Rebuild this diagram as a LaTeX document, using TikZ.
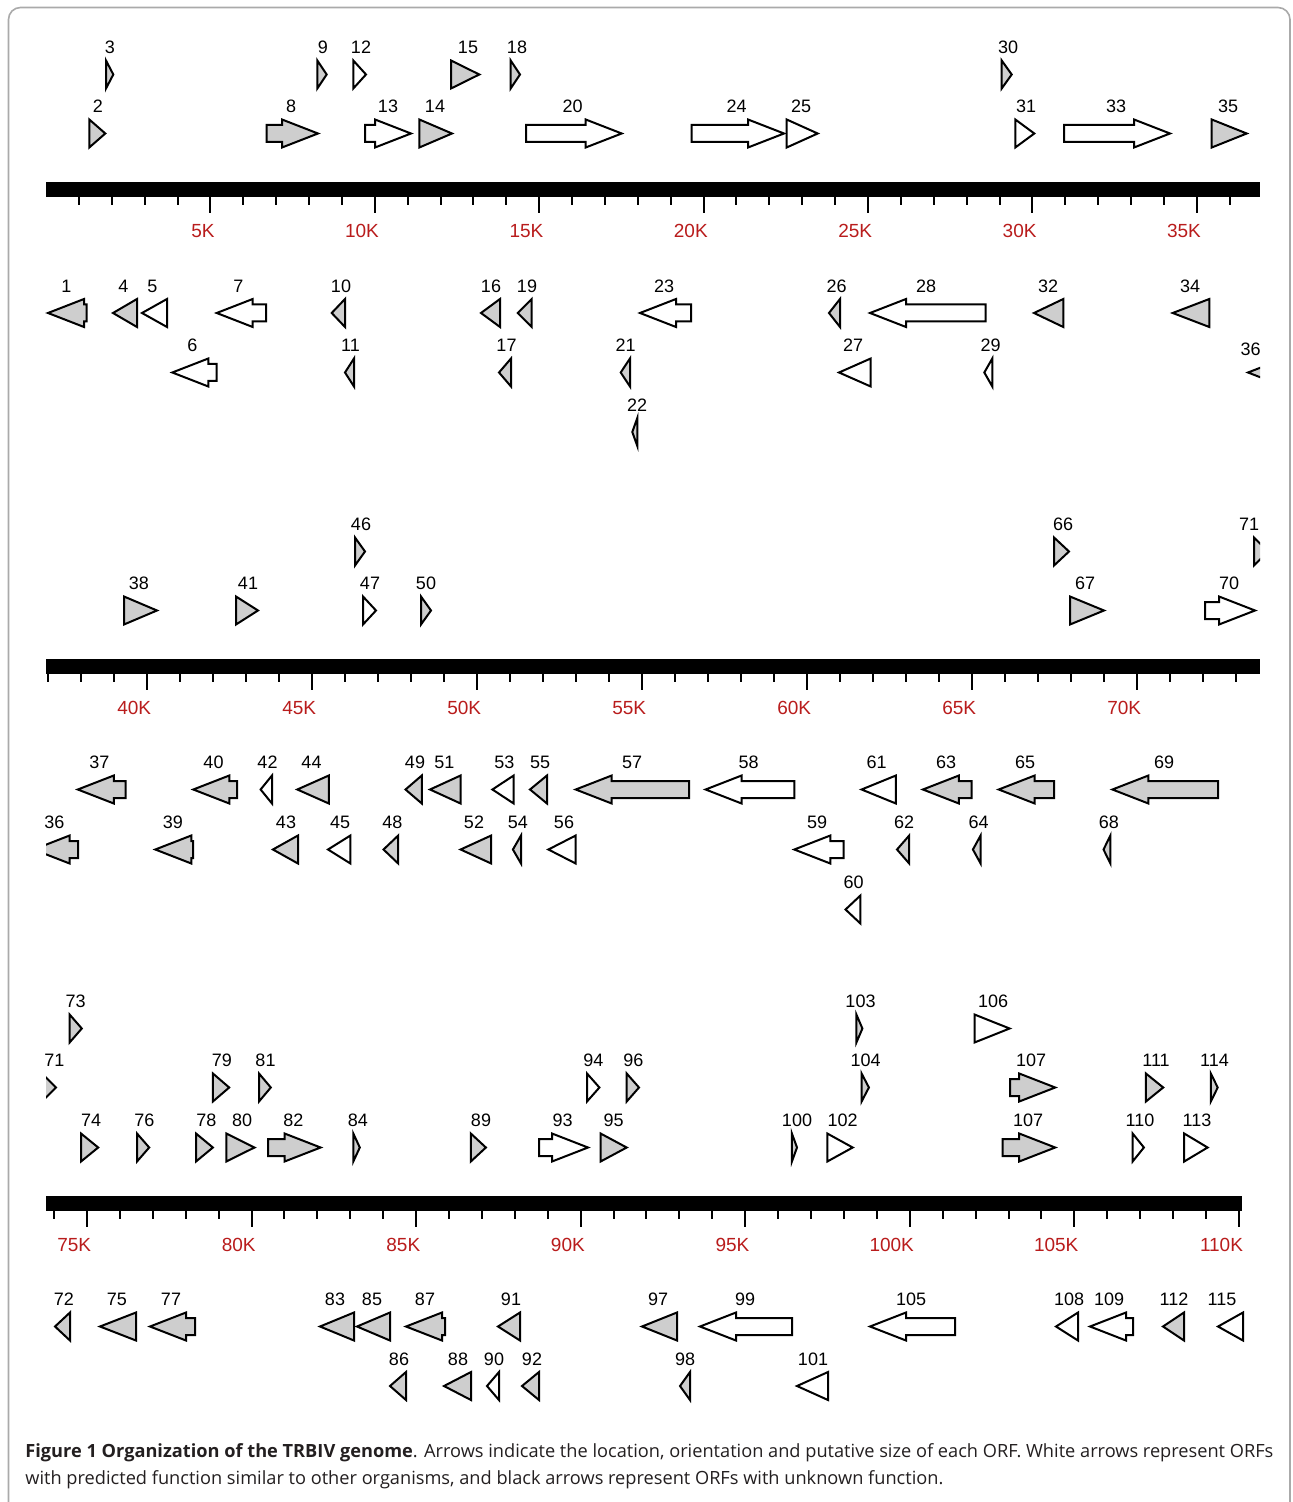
\documentclass[tikz,border=0pt]{standalone}
\usepackage{fontspec}
\setmainfont{Liberation Sans}
\newfontfamily\capfont{Open Sans}
\definecolor{orfgray}{RGB}{206,206,206}
\definecolor{axred}{RGB}{185,28,28}
\definecolor{framegray}{RGB}{170,170,170}
\definecolor{captext}{RGB}{35,31,32}
\tikzset{
  orf/.style={draw=black, line width=1pt, line join=miter},
  orflab/.style={font=\fontsize{9}{10}\selectfont, inner sep=0pt, text=black},
  axlab/.style={font=\fontsize{9.5}{11}\selectfont, inner sep=0pt, text=axred, anchor=east},
  tickline/.style={draw=black, line width=1pt},
  captionline/.style={anchor=base west, inner sep=0pt, text=captext, font=\capfont\fontsize{9.1}{12}\selectfont}
}
\newcommand\fwdTri[4]{\draw[orf,fill=#4] (#1,{#3-14}) -- (#2,#3) -- (#1,{#3+14}) -- cycle;}
\newcommand\revTri[4]{\draw[orf,fill=#4] (#2,{#3-14}) -- (#1,#3) -- (#2,{#3+14}) -- cycle;}
\newcommand\fwdBlk[4]{\draw[orf,fill=#4] (#1,{#3-8.5}) -- ({#2-36},{#3-8.5}) -- ({#2-36},{#3-14}) -- (#2,#3) -- ({#2-36},{#3+14}) -- ({#2-36},{#3+8.5}) -- (#1,{#3+8.5}) -- cycle;}
\newcommand\revBlk[4]{\draw[orf,fill=#4] (#2,{#3-8.5}) -- ({#1+36},{#3-8.5}) -- ({#1+36},{#3-14}) -- (#1,#3) -- ({#1+36},{#3+14}) -- ({#1+36},{#3+8.5}) -- (#2,{#3+8.5}) -- cycle;}
\newcommand\orfLabel[4]{\node[orflab] (#1) at (#2,{#3-27}) {#4};}
\begin{document}
\begin{tikzpicture}[x=0.5pt,y=-0.5pt]
\useasboundingbox (0,0) rectangle (1292,1502);
\fill[white] (0,0) rectangle (1292,1502);
% frame
\draw[framegray, line width=0.8pt, rounded corners=6pt] (8.5,1530) -- (8.5,7.5) -- (1290,7.5) -- (1290,1530);

% ================= TRACK 1 =================
\fill[black] (46,182) rectangle (1260,197);
\foreach \k in {1,...,36} \draw[tickline] ({46+32.88*\k},197) -- ++(0,8);
\foreach \k in {5,10,...,35} {
  \draw[tickline] ({46+32.88*\k},197) -- ++(0,16);
  \node[axlab] (ta\k) at ({46+32.88*\k+4.5},231) {\k K};
}
% forward row A (74.5)
\fwdTri{106}{113.3}{74.5}{orfgray} \orfLabel{n3}{110}{74.5}{3}
\fwdTri{317.3}{326.7}{74.5}{orfgray} \orfLabel{n9}{323}{74.5}{9}
\fwdTri{353.3}{366}{74.5}{white} \orfLabel{n12}{361}{74.5}{12}
\fwdTri{451}{479.3}{74.5}{orfgray} \orfLabel{n15}{468}{74.5}{15}
\fwdTri{510.7}{520}{74.5}{orfgray} \orfLabel{n18}{517}{74.5}{18}
\fwdTri{1001.7}{1011.7}{74.5}{orfgray} \orfLabel{n30}{1008}{74.5}{30}
% forward row B (133.5)
\fwdTri{89.3}{105.3}{133.5}{orfgray} \orfLabel{n2}{98}{133.5}{2}
\fwdBlk{266.7}{318}{133.5}{orfgray} \orfLabel{n8}{291}{133.5}{8}
\fwdBlk{365}{411}{133.5}{white} \orfLabel{n13}{388}{133.5}{13}
\fwdTri{419.3}{452}{133.5}{orfgray} \orfLabel{n14}{435}{133.5}{14}
\fwdBlk{526}{621.7}{133.5}{white} \orfLabel{n20}{572.5}{133.5}{20}
\fwdBlk{691.7}{784}{133.5}{white} \orfLabel{n24}{736.5}{133.5}{24}
\fwdTri{786.7}{817.7}{133.5}{white} \orfLabel{n25}{801}{133.5}{25}
\fwdTri{1015.3}{1034.3}{133.5}{white} \orfLabel{n31}{1026}{133.5}{31}
\fwdBlk{1064}{1170}{133.5}{white} \orfLabel{n33}{1116}{133.5}{33}
\fwdTri{1211.7}{1246.7}{133.5}{orfgray} \orfLabel{n35}{1228}{133.5}{35}
% reverse row C (313)
\revBlk{48}{86.7}{313}{orfgray} \orfLabel{n1}{66.5}{313}{1}
\revTri{113}{137}{313}{orfgray} \orfLabel{n4}{123.5}{313}{4}
\revTri{142}{167}{313}{white} \orfLabel{n5}{152.5}{313}{5}
\revBlk{216.7}{266}{313}{white} \orfLabel{n7}{238.5}{313}{7}
\revTri{331.7}{345}{313}{orfgray} \orfLabel{n10}{341}{313}{10}
\revTri{481}{500}{313}{orfgray} \orfLabel{n16}{491}{313}{16}
\revTri{517.7}{531.7}{313}{orfgray} \orfLabel{n19}{527}{313}{19}
\revBlk{640}{691}{313}{white} \orfLabel{n23}{664}{313}{23}
\revTri{829}{840}{313}{orfgray} \orfLabel{n26}{836.5}{313}{26}
\revBlk{870}{985.7}{313}{white} \orfLabel{n28}{926}{313}{28}
\revTri{1034}{1063.3}{313}{orfgray} \orfLabel{n32}{1048}{313}{32}
\revTri{1172.7}{1209.3}{313}{orfgray} \orfLabel{n34}{1190}{313}{34}
% reverse row D (372.5)
\revBlk{172.3}{216.7}{372.5}{white} \orfLabel{n6}{192.5}{372.5}{6}
\revTri{345}{354}{372.5}{orfgray} \orfLabel{n11}{350.5}{372.5}{11}
\revTri{499}{511}{372.5}{orfgray} \orfLabel{n17}{506.5}{372.5}{17}
\revTri{620.7}{630}{372.5}{orfgray} \orfLabel{n21}{625.5}{372.5}{21}
\revTri{839}{870.7}{372.5}{white} \orfLabel{n27}{853}{372.5}{27}
\revTri{984.3}{992.3}{372.5}{white} \orfLabel{n29}{990.5}{372.5}{29}
\begin{scope}
  \clip (1200,340) rectangle (1260,400);
  \revBlk{1248}{1296}{372.5}{orfgray}
\end{scope}
\orfLabel{n36a}{1250.5}{376}{36}
% reverse row E (432)
\revTri{632.3}{637.3}{432}{orfgray} \orfLabel{n22}{637}{432}{22}

% ================= TRACK 2 =================
\fill[black] (46,659) rectangle (1260,674);
\foreach \k in {37,...,73} \draw[tickline] ({48+33*(\k-37)},674) -- ++(0,8);
\foreach \k in {40,45,...,70} {
  \draw[tickline] ({48+33*(\k-37)},674) -- ++(0,16);
  \node[axlab] (tb\k) at ({48+33*(\k-37)+4.5},708) {\k K};
}
% forward row A (551.5)
\fwdTri{355}{365}{551.5}{orfgray} \orfLabel{n46}{361}{551.5}{46}
\fwdTri{1054}{1069}{551.5}{orfgray} \orfLabel{n66}{1063}{551.5}{66}
\begin{scope}
  \clip (1200,520) rectangle (1260,580);
  \fwdTri{1254}{1268}{551.5}{orfgray}
\end{scope}
\orfLabel{n71a}{1249}{551.5}{71}
% forward row B (610.5)
\fwdTri{124}{157}{610.5}{orfgray} \orfLabel{n38}{139}{610.5}{38}
\fwdTri{236}{258}{610.5}{orfgray} \orfLabel{n41}{248}{610.5}{41}
\fwdTri{363}{376}{610.5}{white} \orfLabel{n47}{370}{610.5}{47}
\fwdTri{421}{431}{610.5}{orfgray} \orfLabel{n50}{426}{610.5}{50}
\fwdTri{1070}{1104}{610.5}{orfgray} \orfLabel{n67}{1085}{610.5}{67}
\fwdBlk{1205}{1255}{610.5}{white} \orfLabel{n70}{1229}{610.5}{70}
% reverse row C (789.5)
\revBlk{77.8}{125.5}{789.5}{orfgray} \orfLabel{n37}{99.5}{789.5}{37}
\revBlk{193.3}{237}{789.5}{orfgray} \orfLabel{n40}{213.5}{789.5}{40}
\revTri{260.6}{272}{789.5}{white} \orfLabel{n42}{267.5}{789.5}{42}
\revTri{297.3}{328.8}{789.5}{orfgray} \orfLabel{n44}{311.5}{789.5}{44}
\revTri{405.5}{421.8}{789.5}{orfgray} \orfLabel{n49}{415}{789.5}{49}
\revTri{430}{460.6}{789.5}{orfgray} \orfLabel{n51}{444.3}{789.5}{51}
\revTri{492.4}{513.7}{789.5}{white} \orfLabel{n53}{504.3}{789.5}{53}
\revTri{530}{547}{789.5}{orfgray} \orfLabel{n55}{540.2}{789.5}{55}
\revBlk{575.7}{689}{789.5}{orfgray} \orfLabel{n57}{632}{789.5}{57}
\revBlk{705.6}{794.3}{789.5}{white} \orfLabel{n58}{748.7}{789.5}{58}
\revTri{861.6}{895.9}{789.5}{white} \orfLabel{n61}{876.5}{789.5}{61}
\revBlk{922.9}{971.7}{789.5}{orfgray} \orfLabel{n63}{946}{789.5}{63}
\revBlk{998.7}{1054}{789.5}{orfgray} \orfLabel{n65}{1025}{789.5}{65}
\revBlk{1112.4}{1218}{789.5}{orfgray} \orfLabel{n69}{1164}{789.5}{69}
% reverse row D (849.5)
\begin{scope}
  \clip (46,820) rectangle (120,880);
  \revBlk{33.6}{78.2}{849.5}{orfgray}
\end{scope}
\orfLabel{n36b}{54.5}{849.5}{36}
\revBlk{155.3}{193}{849.5}{orfgray} \orfLabel{n39}{173}{849.5}{39}
\revTri{272.9}{298}{849.5}{orfgray} \orfLabel{n43}{286}{849.5}{43}
\revTri{328}{350.4}{849.5}{white} \orfLabel{n45}{340.2}{849.5}{45}
\revTri{383.5}{398.2}{849.5}{orfgray} \orfLabel{n48}{392.4}{849.5}{48}
\revTri{460.6}{491.2}{849.5}{orfgray} \orfLabel{n52}{474}{849.5}{52}
\revTri{512.9}{521}{849.5}{orfgray} \orfLabel{n54}{517.8}{849.5}{54}
\revTri{548.4}{575.7}{849.5}{white} \orfLabel{n56}{564}{849.5}{56}
\revBlk{794.3}{843.5}{849.5}{white} \orfLabel{n59}{817}{849.5}{59}
\revTri{897}{909.2}{849.5}{orfgray} \orfLabel{n62}{904}{849.5}{62}
\revTri{972.9}{980.6}{849.5}{orfgray} \orfLabel{n64}{978.5}{849.5}{64}
\revTri{1103.5}{1110.4}{849.5}{orfgray} \orfLabel{n68}{1108.8}{849.5}{68}
% reverse row E (909.5)
\revTri{845.5}{860.4}{909.5}{white} \orfLabel{n60}{853.5}{909.5}{60}

% ================= TRACK 3 =================
\fill[black] (46,1196) rectangle (1242,1211);
\foreach \k in {74,...,110} \draw[tickline] ({54.1+32.91*(\k-74)},1211) -- ++(0,8);
\foreach \k in {75,80,...,110} {
  \draw[tickline] ({54.1+32.91*(\k-74)},1211) -- ++(0,16);
  \node[axlab] (tc\k) at ({54.1+32.91*(\k-74)+4.5},1245) {\k K};
}
% forward row A (1028.5)
\fwdTri{69.6}{81.8}{1028.5}{orfgray} \orfLabel{n73}{75.7}{1028.5}{73}
\fwdTri{856.4}{862.4}{1028.5}{orfgray} \orfLabel{n103}{860.5}{1028.5}{103}
\fwdTri{974.5}{1009.6}{1028.5}{white} \orfLabel{n106}{993}{1028.5}{106}
% forward row B (1087.5)
\begin{scope}
  \clip (46,1060) rectangle (120,1115);
  \fwdTri{42}{56}{1087.5}{orfgray}
\end{scope}
\orfLabel{n71b}{54.5}{1087.5}{71}
\fwdTri{212.9}{229.2}{1087.5}{orfgray} \orfLabel{n79}{221.8}{1087.5}{79}
\fwdTri{259}{270.8}{1087.5}{orfgray} \orfLabel{n81}{265.5}{1087.5}{81}
\fwdTri{587}{599.4}{1087.5}{white} \orfLabel{n94}{593.3}{1087.5}{94}
\fwdTri{626.7}{639}{1087.5}{orfgray} \orfLabel{n96}{633.3}{1087.5}{96}
\fwdTri{861.6}{868.9}{1087.5}{orfgray} \orfLabel{n104}{865.6}{1087.5}{104}
\fwdBlk{1010}{1055.2}{1087.5}{orfgray} \orfLabel{n107a}{1031}{1087.5}{107}
\fwdTri{1145.9}{1163.2}{1087.5}{orfgray} \orfLabel{n111}{1156}{1087.5}{111}
\fwdTri{1210.8}{1217.7}{1087.5}{orfgray} \orfLabel{n114}{1214.4}{1087.5}{114}
% forward row C (1147.5)
\fwdTri{81}{98.2}{1147.5}{orfgray} \orfLabel{n74}{91.2}{1147.5}{74}
\fwdTri{137}{149.2}{1147.5}{orfgray} \orfLabel{n76}{144.3}{1147.5}{76}
\fwdTri{196}{212.9}{1147.5}{orfgray} \orfLabel{n78}{206.3}{1147.5}{78}
\fwdTri{226.3}{254.5}{1147.5}{orfgray} \orfLabel{n80}{242.2}{1147.5}{80}
\fwdBlk{268}{320.6}{1147.5}{orfgray} \orfLabel{n82}{293.3}{1147.5}{82}
\fwdTri{353.3}{359.8}{1147.5}{orfgray} \orfLabel{n84}{357.8}{1147.5}{84}
\fwdTri{470.8}{485.9}{1147.5}{orfgray} \orfLabel{n89}{481}{1147.5}{89}
\fwdBlk{539}{588}{1147.5}{white} \orfLabel{n93}{562.7}{1147.5}{93}
\fwdTri{600.6}{626.7}{1147.5}{orfgray} \orfLabel{n95}{613.7}{1147.5}{95}
\fwdTri{791.9}{797}{1147.5}{orfgray} \orfLabel{n100}{797}{1147.5}{100}
\fwdTri{827.3}{852.7}{1147.5}{white} \orfLabel{n102}{842.5}{1147.5}{102}
\fwdBlk{1002.7}{1055.2}{1147.5}{orfgray} \orfLabel{n107b}{1028}{1147.5}{107}
\fwdTri{1132.6}{1143.9}{1147.5}{white} \orfLabel{n110}{1140}{1147.5}{110}
\fwdTri{1184.2}{1207.6}{1147.5}{white} \orfLabel{n113}{1197}{1147.5}{113}
% reverse row D (1326.5)
\revTri{55}{70}{1326.5}{orfgray} \orfLabel{n72}{64}{1326.5}{72}
\revTri{100}{136}{1326.5}{orfgray} \orfLabel{n75}{117}{1326.5}{75}
\revBlk{150}{195}{1326.5}{orfgray} \orfLabel{n77}{171}{1326.5}{77}
\revTri{320}{354}{1326.5}{orfgray} \orfLabel{n83}{335}{1326.5}{83}
\revTri{357}{390}{1326.5}{orfgray} \orfLabel{n85}{372}{1326.5}{85}
\revBlk{406}{445}{1326.5}{orfgray} \orfLabel{n87}{425}{1326.5}{87}
\revTri{498}{520}{1326.5}{orfgray} \orfLabel{n91}{511}{1326.5}{91}
\revTri{642}{677}{1326.5}{orfgray} \orfLabel{n97}{658}{1326.5}{97}
\revBlk{700}{792}{1326.5}{white} \orfLabel{n99}{745}{1326.5}{99}
\revBlk{870}{955}{1326.5}{white} \orfLabel{n105}{911}{1326.5}{105}
\revTri{1056}{1078}{1326.5}{white} \orfLabel{n108}{1069}{1326.5}{108}
\revBlk{1090}{1133}{1326.5}{white} \orfLabel{n109}{1109}{1326.5}{109}
\revTri{1163}{1184}{1326.5}{orfgray} \orfLabel{n112}{1174}{1326.5}{112}
\revTri{1218}{1243}{1326.5}{white} \orfLabel{n115}{1222}{1326.5}{115}
% reverse row E (1386)
\revTri{390}{406}{1386}{orfgray} \orfLabel{n86}{399}{1386}{86}
\revTri{444}{471}{1386}{orfgray} \orfLabel{n88}{458}{1386}{88}
\revTri{487}{499}{1386}{white} \orfLabel{n90}{494}{1386}{90}
\revTri{522}{539}{1386}{orfgray} \orfLabel{n92}{532}{1386}{92}
\revTri{680}{690}{1386}{orfgray} \orfLabel{n98}{685}{1386}{98}
\revTri{797}{828}{1386}{white} \orfLabel{n101}{813}{1386}{101}

% ================= CAPTION =================
\node[captionline] (cap1) at (25,1457) {\textbf{Figure 1 Organization of the TRBIV genome}. Arrows indicate the location, orientation and putative size of each ORF. White arrows represent ORFs};
\node[captionline] (cap2) at (25,1484) {with predicted function similar to other organisms, and black arrows represent ORFs with unknown function.};
\end{tikzpicture}
\end{document}
